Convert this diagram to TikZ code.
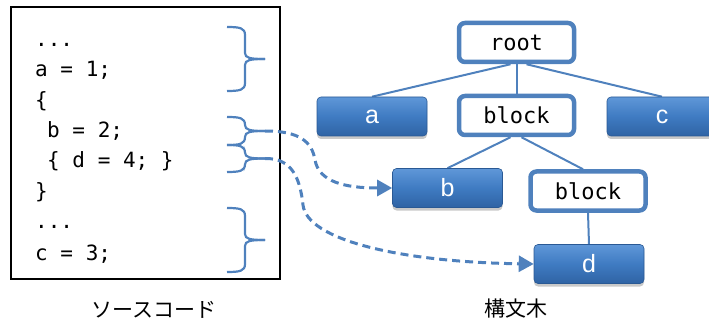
\documentclass[tikz,border=0pt]{standalone}
\usepackage{fontspec}
\setmainfont{Liberation Sans}
\newfontfamily\codefont{DejaVu Sans Mono}
\newfontfamily\jpfont{Noto Sans CJK JP}
\usetikzlibrary{arrows.meta,shadows,backgrounds}

\definecolor{accent}{HTML}{4F81BD}
\definecolor{boxtop}{HTML}{5F97D8}
\definecolor{boxmid}{HTML}{3F7BC2}
\definecolor{boxbot}{HTML}{2F63A4}

\tikzset{
  codeline/.style={anchor=base west, inner sep=0pt, font=\codefont\fontsize{21}{21}\selectfont},
  bracestyle/.style={draw=accent, line width=2.2pt},
  scopebox/.style={draw=accent, line width=4.5pt, fill=white, rounded corners=6pt,
    minimum width=115pt, minimum height=39pt, inner sep=0pt,
    font=\codefont\fontsize{22}{22}\selectfont},
  leafbox/.style={rounded corners=4pt, minimum width=110pt, minimum height=39pt, inner sep=0pt,
    top color=boxtop, bottom color=boxbot, middle color=boxmid, draw=boxbot!90!black, line width=0.6pt,
    text=white, font=\fontsize{25}{25}\selectfont,
    drop shadow={shadow xshift=0pt, shadow yshift=-3pt, opacity=0.3, fill=black!70}},
  treeedge/.style={draw=accent, line width=2pt},
  linkarrow/.style={draw=accent, line width=3pt, dash pattern=on 8pt off 5pt,
    -{Triangle[length=15pt,width=16pt]}},
  caption/.style={inner sep=0pt, font=\jpfont\fontsize{21}{21}\selectfont}
}

% brace opening to the right: top y, bottom y, name of its tip
\newcommand\codebrace[3]{%
  \pgfmathsetmacro\bmid{(#1+#2)/2}%
  \draw[bracestyle] (227,#1) .. controls (240,#1) and (245,#1+1) .. (245,#1+8)
    -- (245,\bmid-6) .. controls (245,\bmid-1) and (250,\bmid) .. (265,\bmid) coordinate (#3);
  \draw[bracestyle] (265,\bmid) .. controls (250,\bmid) and (245,\bmid+1) .. (245,\bmid+6)
    -- (245,#2-8) .. controls (245,#2-1) and (240,#2) .. (227,#2);
}

\begin{document}
\begin{tikzpicture}[x=1pt,y=-1pt]
\useasboundingbox (0,0) rectangle (709,323);

% source code panel
\draw[line width=2pt] (11,7) rectangle (280,279);
\node[codeline] (l1) at (35,46.5)  {...};
\node[codeline] (l2) at (35,77)    {a = 1;};
\node[codeline] (l3) at (35,107.5) {\{};
\node[codeline] (l4) at (47,138)   {b = 2;};
\node[codeline] (l5) at (47,168)   {\{ d = 4; \}};
\node[codeline] (l6) at (35,198.5) {\}};
\node[codeline] (l7) at (35,229)   {...};
\node[codeline] (l8) at (35,260)   {c = 3;};

\codebrace{27}{91}{br1}
\codebrace{117}{145}{br2}
\codebrace{145}{172}{br3}
\codebrace{208}{272}{br4}

% syntax tree
\node[scopebox] (root)   at (516.5,42.5)  {root};
\node[scopebox] (block1) at (516.5,115.5) {block};
\node[scopebox] (block2) at (588,191)     {block};
\node[leafbox]  (a) at (372,116.5) {a};
\node[leafbox]  (b) at (447.5,188) {b};
\node[leafbox]  (c) at (662,116.5) {c};
\node[leafbox]  (d) at (589,264)   {d};

\begin{scope}[on background layer]
  \draw[treeedge] ([xshift=-6pt]root.south) -- (a.north);
  \draw[treeedge] (root.south) -- (block1.north);
  \draw[treeedge] ([xshift=10pt]root.south) -- (c.north);
  \draw[treeedge] ([xshift=-6pt]block1.south) -- (b.north);
  \draw[treeedge] ([xshift=5pt]block1.south) -- ([xshift=-5pt]block2.north);
  \draw[treeedge] (block2.south) -- (d.north);
\end{scope}

% links from code fragments to tree leaves
\draw[linkarrow] (br2) .. controls (300,131) and (312,142) .. (315,160)
  .. controls (319,182) and (345,188) .. (b.west);
\draw[linkarrow] (br3) .. controls (292,158) and (300,178) .. (303,205)
  .. controls (307,240) and (400,262) .. (d.west);

% captions
\node[caption] (srccap)  at (154,310) {ソースコード};
\node[caption] (treecap) at (516,309) {構文木};
\end{tikzpicture}
\end{document}
